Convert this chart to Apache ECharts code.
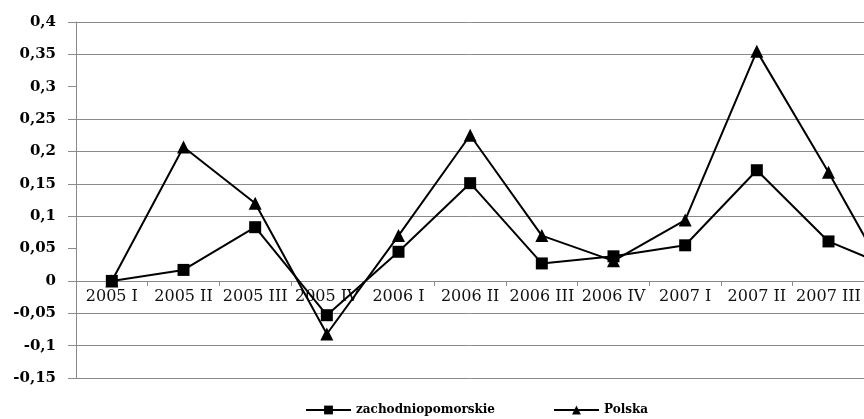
<!DOCTYPE html>
<html>
<head>
<meta charset="utf-8">
<script src="https://cdn.jsdelivr.net/npm/echarts@6/dist/echarts.min.js"></script>
<style>
  html, body { margin: 0; padding: 0; background: #fff; }
  #chart { width: 864px; height: 419px; }
</style>
</head>
<body>
<div id="chart"></div>
<script>
// Quarterly values
const quarters = ['2005 I', '2005 II', '2005 III', '2005 IV', '2006 I', '2006 II',
  '2006 III', '2006 IV', '2007 I', '2007 II', '2007 III', '2007 IV'];
const zachodniopomorskie = [0, 0.017, 0.083, -0.053, 0.045, 0.151, 0.027, 0.038, 0.055, 0.171, 0.061, 0.015];
const polska = [0, 0.207, 0.12, -0.082, 0.07, 0.225, 0.07, 0.031, 0.094, 0.355, 0.168, -0.03];
const yTickLabels = ['-0,15', '-0,1', '-0,05', '0', '0,05', '0,1', '0,15', '0,2', '0,25', '0,3', '0,35', '0,4'];
// horizontal guide lines that are drawn across the plot
const gridLineValues = [-0.15, -0.1, -0.05, 0.1, 0.15, 0.2, 0.25, 0.35, 0.4];

const Y_MIN = -0.15, Y_MAX = 0.4;
const serif = 'DejaVu Serif';
const gridGray = '#8a8a8a';
const plotTop = 22, plotHeight = 356;
// distance from the plot bottom up to the zero level
const zeroOffset = plotHeight * (0 - Y_MIN) / (Y_MAX - Y_MIN);

const chart = echarts.init(document.getElementById('chart'), null, { renderer: 'canvas' });
chart.setOption({
  animation: false,
  backgroundColor: '#ffffff',
  grid: { left: 76, top: plotTop, width: 860, height: plotHeight, containLabel: false, outerBoundsMode: 'none' },
  legend: {
    top: 399,
    left: 300,
    itemWidth: 45,
    itemHeight: 11,
    itemGap: 58,
    textStyle: { fontFamily: serif, fontWeight: 'bold', fontSize: 12, color: '#000' },
    data: ['zachodniopomorskie', 'Polska']
  },
  xAxis: {
    type: 'category',
    data: quarters,
    boundaryGap: true,
    position: 'bottom',
    offset: -zeroOffset,
    axisLine: { onZero: false, lineStyle: { color: gridGray, width: 1 } },
    axisTick: { show: true, length: 5, lineStyle: { color: gridGray } },
    axisLabel: { interval: 0, margin: 8, fontFamily: serif, fontSize: 16, color: '#111', hideOverlap: false },
    splitLine: { show: false }
  },
  yAxis: {
    type: 'value',
    min: Y_MIN,
    max: Y_MAX,
    interval: 0.05,
    axisLine: { show: true, lineStyle: { color: gridGray, width: 1 } },
    axisTick: { show: true, length: 8, lineStyle: { color: gridGray } },
    axisLabel: {
      margin: 20,
      fontFamily: serif,
      fontWeight: 'bold',
      fontSize: 15,
      color: '#000',
      formatter: (v, i) => yTickLabels[i]
    },
    splitLine: { show: false }
  },
  series: [
    {
      name: 'zachodniopomorskie',
      type: 'line',
      data: zachodniopomorskie,
      symbol: 'rect',
      symbolSize: 12,
      showAllSymbol: true,
      z: 3,
      itemStyle: { color: '#000' },
      lineStyle: { color: '#000', width: 2 },
      markLine: {
        silent: true,
        symbol: 'none',
        label: { show: false },
        lineStyle: { color: gridGray, width: 1, type: 'solid' },
        z: 1,
        data: gridLineValues.map(v => ({ yAxis: v }))
      }
    },
    {
      name: 'Polska',
      type: 'line',
      data: polska,
      symbol: 'triangle',
      symbolSize: 13,
      showAllSymbol: true,
      z: 3,
      itemStyle: { color: '#000' },
      lineStyle: { color: '#000', width: 2 }
    }
  ]
});
</script>
</body>
</html>
